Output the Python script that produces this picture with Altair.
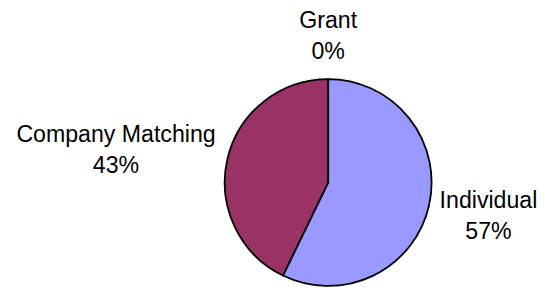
import altair as alt
import pandas as pd

categories = ["Individual", "Company Matching", "Grant"]
values = [57.2, 42.8, 0.0]
colors = ["#9999FF", "#993366", "#FFFFCC"]

total = sum(values)
df = pd.DataFrame({
    "cat": categories,
    "val": values,
    "idx": list(range(len(categories))),
    "label": [f"{c}\n{round(v / total * 100)}%" for c, v in zip(categories, values)],
})

base = alt.Chart(df).encode(
    theta=alt.Theta("val:Q", stack=True),
    order=alt.Order("idx:Q"),
)

pie = base.mark_arc(radius=105, stroke="black", strokeWidth=1.8).encode(
    color=alt.Color("cat:N", scale=alt.Scale(domain=categories, range=colors), legend=None)
)

def label_layer(cat, radius, dy):
    return base.mark_text(
        radius=radius, dy=dy, align="center", baseline="middle",
        lineBreak="\n", lineHeight=32, fontSize=23.5,
        font="Liberation Sans", color="black",
    ).encode(
        text="label:N",
        opacity=alt.condition(alt.datum.cat == cat, alt.value(1), alt.value(0)),
    )

chart = alt.layer(
    pie,
    label_layer("Grant", 147, -17),
    label_layer("Company Matching", 221, 1),
    label_layer("Individual", 167, -19),
).properties(
    width=416,
    height=204,
    autosize=alt.AutoSizeParams(type="none"),
    padding={"left": 117, "top": 73, "right": 4, "bottom": 8},
).configure_view(stroke=None)

chart.save("out.html", embed_options={"renderer": "svg", "actions": False})
